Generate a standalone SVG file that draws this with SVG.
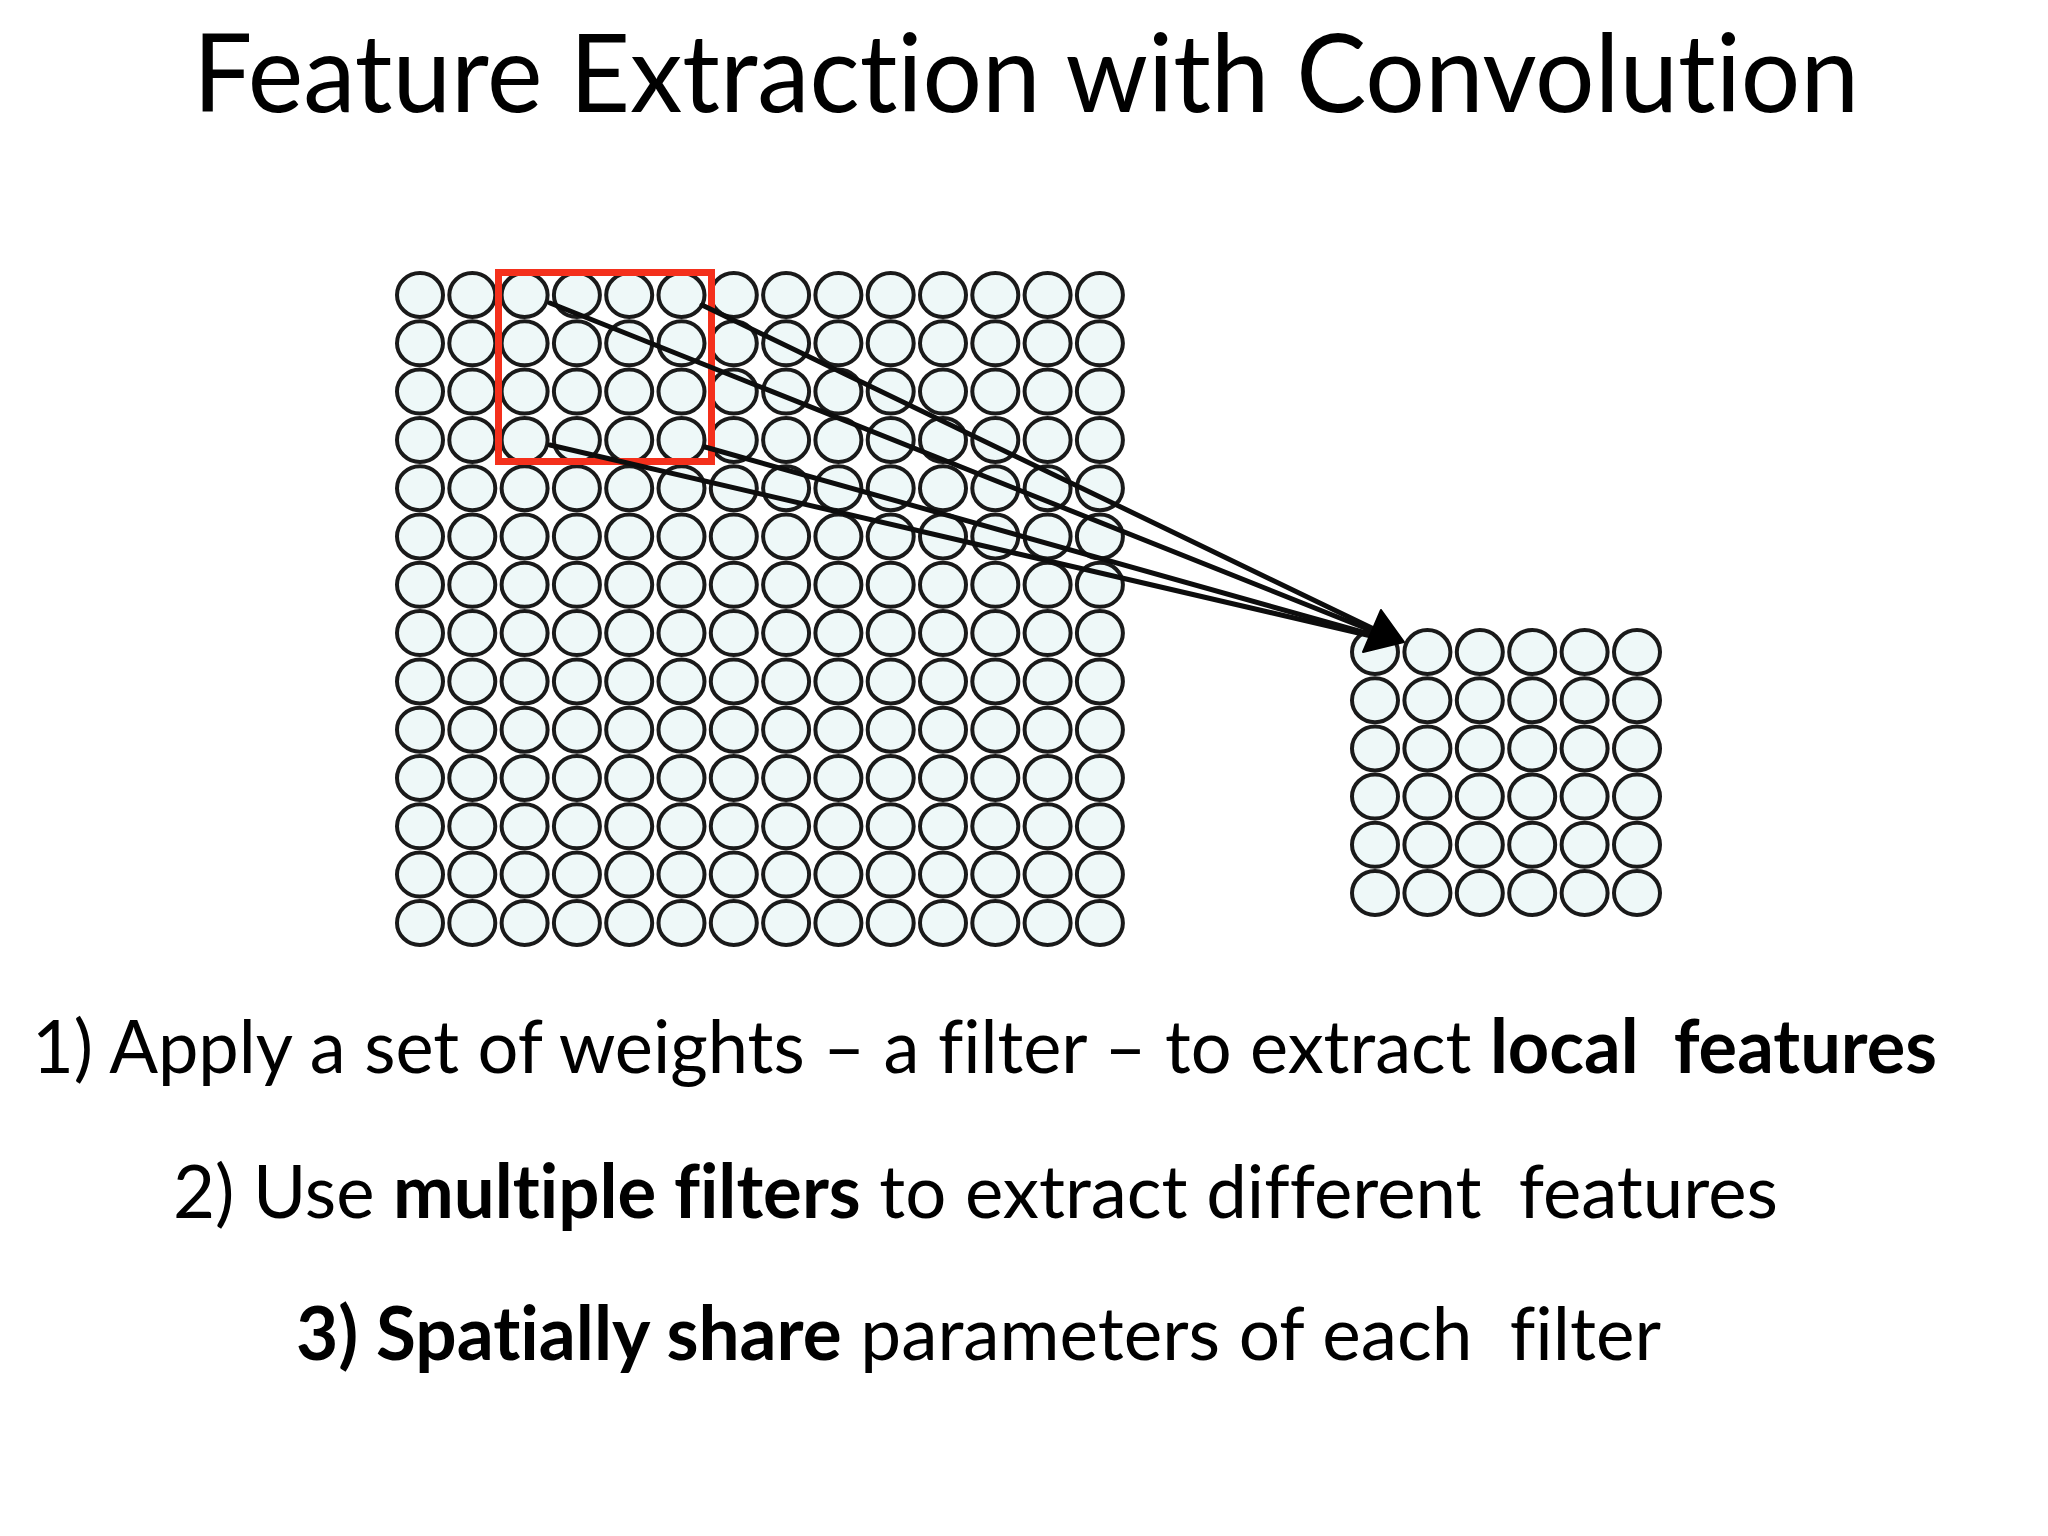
<svg xmlns="http://www.w3.org/2000/svg" xmlns:xlink="http://www.w3.org/1999/xlink" width="2048" height="1536" viewBox="0 0 2048 1536">
<style>
.n{fill:#eef8f8;stroke:#1a1a1a;stroke-width:4}
.t{font-family:Lato,"Open Sans","Liberation Sans",sans-serif;fill:#000;white-space:pre;font-variant-ligatures:none;font-feature-settings:"liga" 0,"dlig" 0}
.b{font-weight:700}
.con{stroke:#0d0d0d;stroke-width:5;fill:none;stroke-linecap:round}
</style>
<defs>
<g id="row14">
<ellipse class="n" cx="420" cy="0" rx="23" ry="22"/>
<ellipse class="n" cx="472.3" cy="0" rx="23" ry="22"/>
<ellipse class="n" cx="524.6" cy="0" rx="23" ry="22"/>
<ellipse class="n" cx="576.9" cy="0" rx="23" ry="22"/>
<ellipse class="n" cx="629.2" cy="0" rx="23" ry="22"/>
<ellipse class="n" cx="681.5" cy="0" rx="23" ry="22"/>
<ellipse class="n" cx="733.8" cy="0" rx="23" ry="22"/>
<ellipse class="n" cx="786.1" cy="0" rx="23" ry="22"/>
<ellipse class="n" cx="838.4" cy="0" rx="23" ry="22"/>
<ellipse class="n" cx="890.7" cy="0" rx="23" ry="22"/>
<ellipse class="n" cx="943" cy="0" rx="23" ry="22"/>
<ellipse class="n" cx="995.3" cy="0" rx="23" ry="22"/>
<ellipse class="n" cx="1047.6" cy="0" rx="23" ry="22"/>
<ellipse class="n" cx="1099.9" cy="0" rx="23" ry="22"/>
</g>
<g id="row6">
<ellipse class="n" cx="1375" cy="0" rx="23" ry="22"/>
<ellipse class="n" cx="1427.4" cy="0" rx="23" ry="22"/>
<ellipse class="n" cx="1479.8" cy="0" rx="23" ry="22"/>
<ellipse class="n" cx="1532.2" cy="0" rx="23" ry="22"/>
<ellipse class="n" cx="1584.6" cy="0" rx="23" ry="22"/>
<ellipse class="n" cx="1637" cy="0" rx="23" ry="22"/>
</g>
</defs>
<rect width="2048" height="1536" fill="#fff"/>
<text class="t" x="193" y="112" font-size="108" textLength="1666" lengthAdjust="spacingAndGlyphs">Feature Extraction with Convolution</text>
<g id="input-layer">
<use xlink:href="#row14" y="295"/>
<use xlink:href="#row14" y="343.3"/>
<use xlink:href="#row14" y="391.6"/>
<use xlink:href="#row14" y="439.9"/>
<use xlink:href="#row14" y="488.2"/>
<use xlink:href="#row14" y="536.5"/>
<use xlink:href="#row14" y="584.8"/>
<use xlink:href="#row14" y="633.1"/>
<use xlink:href="#row14" y="681.4"/>
<use xlink:href="#row14" y="729.7"/>
<use xlink:href="#row14" y="778"/>
<use xlink:href="#row14" y="826.3"/>
<use xlink:href="#row14" y="874.6"/>
<use xlink:href="#row14" y="922.9"/>
</g>
<g id="feature-map">
<use xlink:href="#row6" y="652"/>
<use xlink:href="#row6" y="700.2"/>
<use xlink:href="#row6" y="748.4"/>
<use xlink:href="#row6" y="796.6"/>
<use xlink:href="#row6" y="844.8"/>
<use xlink:href="#row6" y="893"/>
</g>
<g id="filter-window">
<rect x="498.5" y="272.5" width="213" height="189" fill="none" stroke="#f4301c" stroke-width="7"/>
</g>
<g id="connectors">
<line class="con" x1="550" y1="303" x2="1380" y2="634"/>
<line class="con" x1="702" y1="305" x2="1380" y2="632"/>
<line class="con" x1="550" y1="445" x2="1380" y2="638"/>
<line class="con" x1="705" y1="447" x2="1380" y2="637"/>
<polygon points="1404,642 1363,652 1381,610" fill="#000" stroke="#000" stroke-width="2" stroke-linejoin="round"/>
</g>
<g id="bullets">
<text class="t" x="32" y="1073" font-size="74" textLength="1905" lengthAdjust="spacingAndGlyphs">1) Apply a set of weights – a filter – to extract <tspan class="b">local  features</tspan></text>
<text class="t" x="173" y="1218" font-size="74" textLength="1605" lengthAdjust="spacingAndGlyphs">2) Use <tspan class="b">multiple filters</tspan> to extract different  features</text>
<text class="t" x="296" y="1360" font-size="74" textLength="1365" lengthAdjust="spacingAndGlyphs"><tspan class="b">3) Spatially share</tspan> parameters of each  filter</text>
</g>
</svg>
